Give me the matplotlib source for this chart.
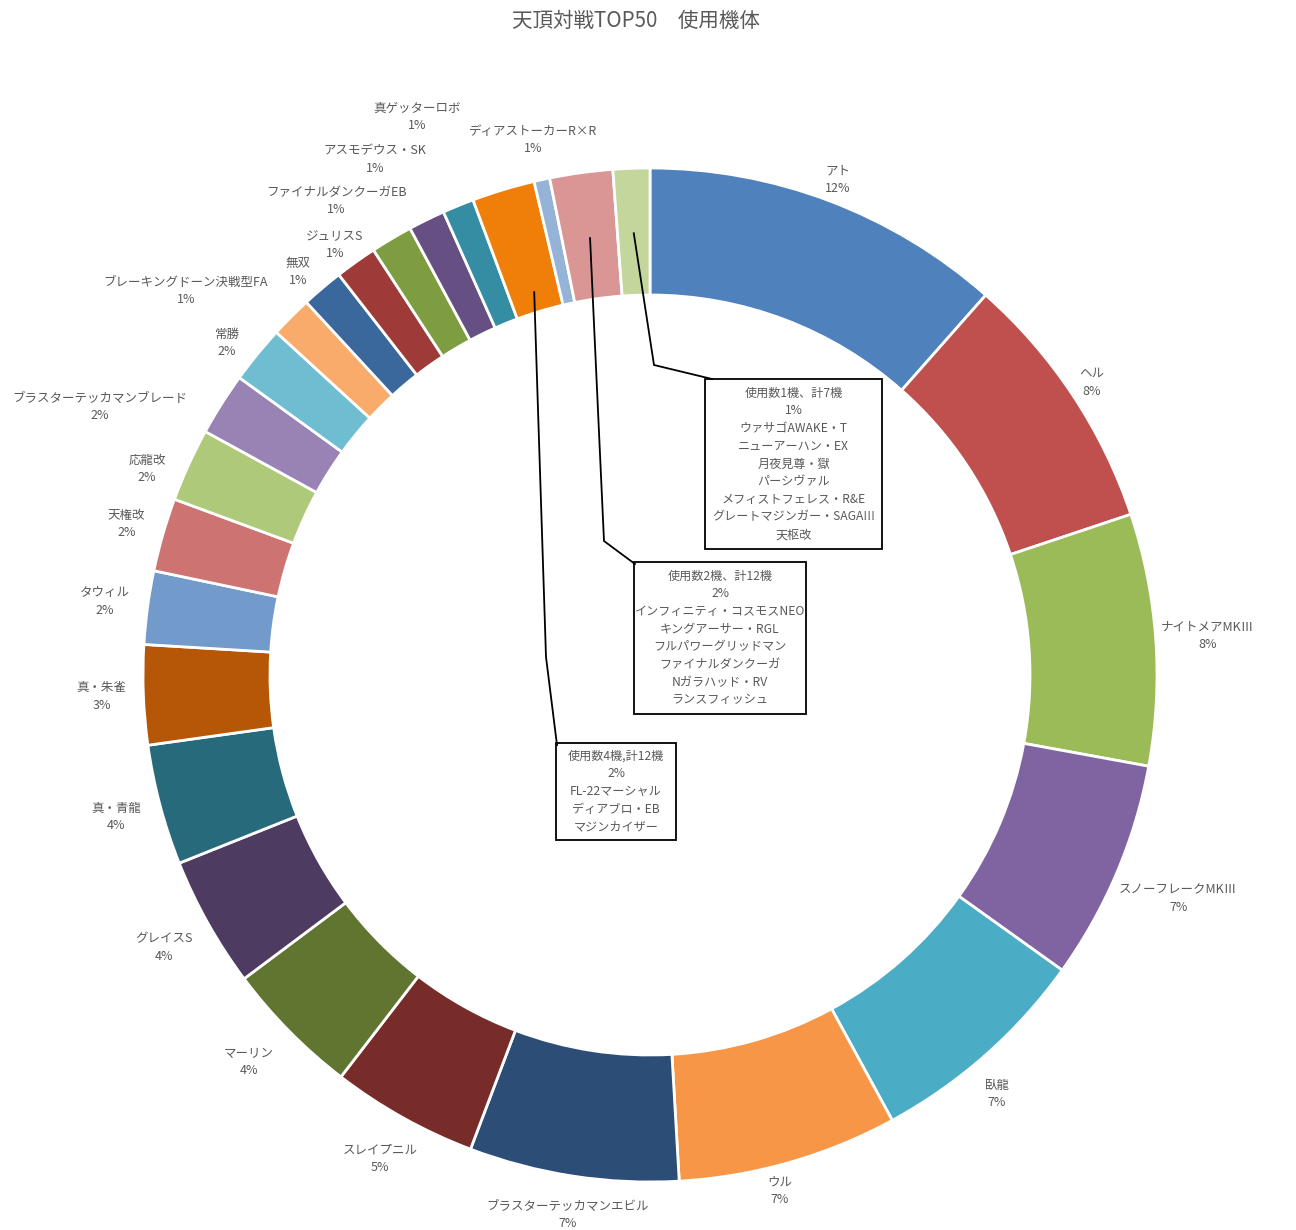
import matplotlib
matplotlib.use('Agg')
import matplotlib.pyplot as plt
from matplotlib.patches import Rectangle
import numpy as np

plt.rcParams['font.family'] = ['Noto Sans CJK JP', 'DejaVu Sans']

# ---------------- data ----------------
names = ['アト', 'ヘル', 'ナイトメアMKⅢ', 'スノーフレークMKⅢ', '臥龍', 'ウル',
         'ブラスターテッカマンエビル', 'スレイプニル', 'マーリン', 'グレイスS',
         '真・青龍', '真・朱雀', 'タウィル', '天権改', '応龍改',
         'ブラスターテッカマンブレード', '常勝', 'ブレーキングドーン決戦型FA',
         '無双', 'ジュリスS', 'ファイナルダンクーガEB', 'アスモデウス・SK',
         '真ゲッターロボ', '使用数4機,計12機', 'ディアストーカーR×R',
         '使用数2機、計12機', '使用数1機、計7機']
counts = [69, 50, 48, 42, 43, 42, 40, 28, 26, 25, 23, 19, 14, 14, 14,
          12, 11, 8, 8, 8, 8, 7, 6, 12, 3, 12, 7]
colors = ['#4F81BD', '#C0504D', '#9BBB59', '#8064A2', '#4BACC6', '#F79646',
          '#2C4D75', '#772C2A', '#5F7530', '#4D3B62', '#276A7C', '#B65708',
          '#729ACA', '#CD7371', '#AFC97A', '#9983B5', '#6FBDD1', '#F9AB6B',
          '#3A679C', '#9E3B38', '#7E9D40', '#664F83', '#358DA4', '#F07F09',
          '#95B3D7', '#D99694', '#C3D69B']

group4_members = ['FL-22マーシャル', 'ディアブロ・EB', 'マジンカイザー']
group2_members = ['インフィニティ・コスモスNEO', 'キングアーサー・RGL',
                  'フルパワーグリッドマン', 'ファイナルダンクーガ',
                  'Nガラハッド・RV', 'ランスフィッシュ']
group1_members = ['ウァサゴAWAKE・T', 'ニューアーハン・EX', '月夜見尊・獄',
                  'パーシヴァル', 'メフィストフェレス・R&E',
                  'グレートマジンガー・SAGA!!!', '天枢改']

title = '天頂対戦TOP50\u3000使用機体'

# ---------------- layout ----------------
W, H = 1296, 1230
CX, CY = 650, H - 675      # donut center (pixel coords, y up)
R_OUT, RING = 507, 127
TEXT_COLOR = '#595959'
FS = 9
BOX_FS = 8.7
LSP = 1.47

# callout boxes: (group index, members, box left, box top, box width, box height,
#                 anchor radius, elbow x, elbow y, end x, end y) in pixel coords (y down)
callouts = [
    (26, group1_members, 705, 379, 177, 170, 442, 654, 365, 712, 379),
    (25, group2_members, 634, 562, 172, 152, 441, 604, 541, 635, 564),
    (23, group4_members, 556, 743, 120, 97, 400, 546, 657, 557, 745),
]
label_override = {  # label centers for crowded labels (pixel coords, y down)
    'ブラスターテッカマンブレード': (100, 407),
    '常勝': (227, 343),
    'ブレーキングドーン決戦型FA': (186, 291),
    '無双': (298, 272),
    'ジュリスS': (335, 245),
    'ファイナルダンクーガEB': (336, 201),
    'アスモデウス・SK': (375, 160),
    '真ゲッターロボ': (417, 117),
    'ディアストーカーR×R': (533, 140),
    '応龍改': (147, 469),
    '臥龍': (997, 1094),
    'ウル': (780, 1191),
    'マーリン': (249, 1062),
}

fig = plt.figure(figsize=(W / 100, H / 100), dpi=100)
ax = fig.add_axes([0, 0, 1, 1])

total = sum(counts)
pcts = [int(np.floor(c / total * 100 + 0.5 + 1e-9)) for c in counts]

wedges, _ = ax.pie(counts, colors=colors, startangle=90, counterclock=False,
                   radius=R_OUT, center=(CX, CY),
                   wedgeprops=dict(width=RING, edgecolor='white', linewidth=2))
ax.set_xlim(0, W)
ax.set_ylim(0, H)
ax.set_aspect('equal')
ax.axis('off')

fig.text(636 / W, 1 - 21 / H, title, ha='center', va='center',
         fontsize=14.8, color=TEXT_COLOR)

renderer = fig.canvas.get_renderer()
group_idx = {c[0] for c in callouts}

for i, (w, name, p) in enumerate(zip(wedges, names, pcts)):
    if i in group_idx:
        continue
    txt = ax.text(0, 0, f'{name}\n{p}%', ha='center', va='center',
                  multialignment='center', fontsize=FS, color=TEXT_COLOR,
                  linespacing=LSP)
    if name in label_override:
        x, y = label_override[name]
        txt.set_position((x, H - y))
        continue
    bb = txt.get_window_extent(renderer)
    tw, th = bb.width, bb.height
    mid = np.deg2rad((w.theta1 + w.theta2) / 2)
    ux, uy = np.cos(mid), np.sin(mid)
    gap = 4 + 12 * max(0.0, -ux) + 6 * max(0.0, -uy)
    d = R_OUT + gap + abs(ux) * tw / 2 + abs(uy) * th / 2
    txt.set_position((CX + ux * d, CY + uy * d))

for (gi, members, bx, by, bw, bh, ar, ex, ey, lx, ly) in callouts:
    w = wedges[gi]
    mid = np.deg2rad((w.theta1 + w.theta2) / 2)
    axp, ayp = CX + ar * np.cos(mid), CY + ar * np.sin(mid)
    ax.plot([axp, ex, lx], [ayp, H - ey, H - ly], color='black', lw=1.3,
            zorder=5, solid_joinstyle='miter')
    ax.add_patch(Rectangle((bx, H - by - bh), bw, bh, fill=False,
                           edgecolor='black', lw=1.3, zorder=5))
    content = '\n'.join([names[gi], f'{pcts[gi]}%'] + members)
    ax.text(bx + bw / 2, H - by - bh / 2, content, ha='center', va='center',
            multialignment='center', fontsize=BOX_FS, color=TEXT_COLOR,
            linespacing=LSP, zorder=6)

fig.savefig('out.png', dpi=100)
